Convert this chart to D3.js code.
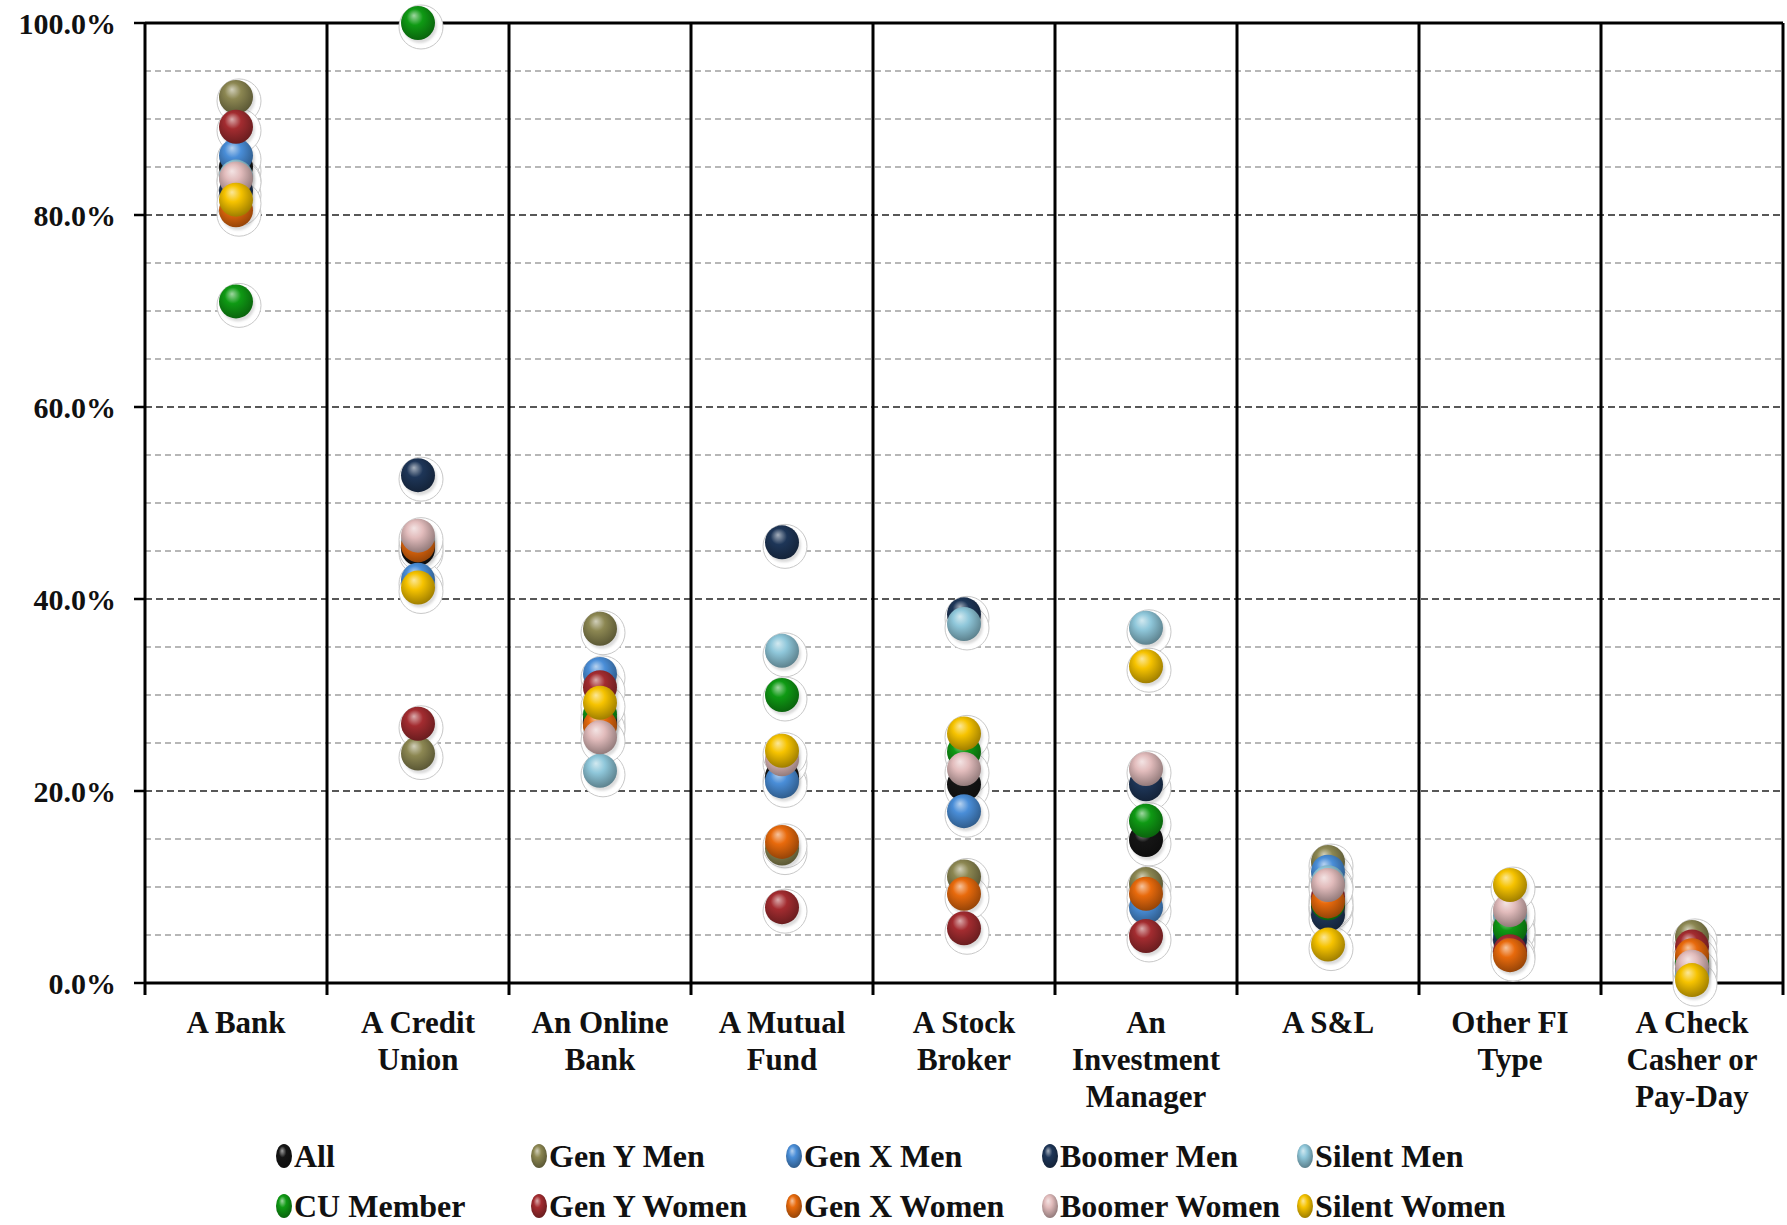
<!DOCTYPE html>
<html>
<head>
<meta charset="utf-8">
<script src="https://cdn.jsdelivr.net/npm/d3@7"></script>
<style>
  body { margin: 0; background: #fff; }
  text { font-family: "Liberation Serif", "Times New Roman", serif; font-weight: bold; fill: #111; }
</style>
</head>
<body>
<svg id="chart" width="1787" height="1225"></svg>
<script>
// categories (x axis), one line per array entry
const categories = [
  ['A Bank'], ['A Credit', 'Union'], ['An Online', 'Bank'], ['A Mutual', 'Fund'],
  ['A Stock', 'Broker'], ['An', 'Investment', 'Manager'], ['A S&L'],
  ['Other FI', 'Type'], ['A Check', 'Casher or', 'Pay-Day']
];
const seriesNames = ['All', 'Gen Y Men', 'Gen X Men', 'Boomer Men', 'Silent Men',
  'CU Member', 'Gen Y Women', 'Gen X Women', 'Boomer Women', 'Silent Women'];
const seriesColors = ['#151515', '#8c8752', '#4a8ed8', '#1e3658', '#8fc7da',
  '#0f9a14', '#a32c30', '#e86a0c', '#e2bcbc', '#f6c300'];

// values in percent, one array per series, in category order
const allVals         = [85.0, 45.2, 27.4, 21.5, 20.7, 14.9,  8.0,  5.5, 2.5];
const genYMenVals     = [92.3, 23.9, 36.9, 14.0, 11.1, 10.3, 12.6,  6.0, 4.8];
const genXMenVals     = [86.2, 42.0, 32.2, 21.0, 17.9,  7.9, 11.6,  5.0, 2.0];
const boomerMenVals   = [82.5, 52.9, 27.0, 45.9, 38.4, 20.7,  7.1,  4.5, 1.5];
const silentMenVals   = [84.0, 46.0, 22.1, 34.6, 37.4, 37.0, 10.5,  7.0, 1.0];
const cuMemberVals    = [71.0, 100.0, 28.0, 30.0, 24.1, 16.9, 8.3,  5.7, 2.2];
const genYWomenVals   = [89.2, 27.0, 30.8,  7.9,  5.7,  4.9,  9.0,  3.3, 3.8];
const genXWomenVals   = [80.5, 45.6, 26.8, 14.7,  9.3,  9.3,  8.5,  2.9, 2.9];
const boomerWomenVals = [83.8, 46.6, 25.6, 23.3, 22.3, 22.3, 10.2,  7.6, 1.7];
const silentWomenVals = [81.6, 41.2, 29.2, 24.2, 26.0, 33.0,  4.0, 10.2, 0.3];

const seriesValues = [allVals, genYMenVals, genXMenVals, boomerMenVals, silentMenVals,
  cuMemberVals, genYWomenVals, genXWomenVals, boomerWomenVals, silentWomenVals];

const yTicks = [0, 20, 40, 60, 80, 100];
const gridSteps = d3.range(5, 100, 5);

const svg = d3.select('#chart');
const plotLeft = 145, plotRight = 1783, plotTop = 23, plotBottom = 983;

let xScale = d3.scaleBand()
               .domain(d3.range(categories.length))
               .range([plotLeft, plotRight]);
let yScale = d3.scaleLinear()
               .domain([0, 100])
               .range([plotBottom, plotTop]);

// gradients for the shaded balls
const defs = svg.append('defs');
seriesColors.forEach(function(c, i){
  let g = defs.append('radialGradient')
              .attr('id', 'ball' + i)
              .attr('cx', '45%').attr('cy', '40%').attr('r', '60%')
              .attr('fx', '38%').attr('fy', '28%');
  g.append('stop').attr('offset', '0%').attr('stop-color', d3.interpolateRgb(c, '#fff')(0.6));
  g.append('stop').attr('offset', '40%').attr('stop-color', c);
  g.append('stop').attr('offset', '100%').attr('stop-color', d3.color(c).darker(1.2));
});
defs.append('filter').attr('id', 'soft')
    .append('feGaussianBlur').attr('stdDeviation', 1.2);

// gridlines
gridSteps.forEach(function(v){
  let major = v % 20 === 0;
  svg.append('line')
     .attr('x1', plotLeft).attr('x2', plotRight)
     .attr('y1', yScale(v)).attr('y2', yScale(v))
     .attr('stroke', major ? '#222' : '#a0a0a0')
     .attr('stroke-width', major ? 1.6 : 1.3)
     .attr('stroke-dasharray', major ? '7,4' : '6,4');
});
svg.append('line')
   .attr('x1', plotLeft).attr('x2', plotRight)
   .attr('y1', yScale(100)).attr('y2', yScale(100))
   .attr('stroke', '#000').attr('stroke-width', 3);

// category dividers, extending below the axis as ticks
for(let i = 0; i <= categories.length; i++){
  let x = i < categories.length ? xScale(i) : plotRight;
  svg.append('line')
     .attr('x1', x).attr('x2', x)
     .attr('y1', plotTop).attr('y2', plotBottom + 12)
     .attr('stroke', '#000').attr('stroke-width', 3);
}
svg.append('line')
   .attr('x1', plotLeft).attr('x2', plotRight)
   .attr('y1', plotBottom).attr('y2', plotBottom)
   .attr('stroke', '#000').attr('stroke-width', 3);

// y axis ticks and labels
yTicks.forEach(function(v){
  svg.append('line')
     .attr('x1', plotLeft - 11).attr('x2', plotLeft)
     .attr('y1', yScale(v)).attr('y2', yScale(v))
     .attr('stroke', '#000').attr('stroke-width', 2.5);
  svg.append('text')
     .attr('x', 116)
     .attr('y', yScale(v))
     .attr('dy', '0.35em')
     .attr('text-anchor', 'end')
     .attr('font-size', '30px')
     .text(v.toFixed(1) + '%');
});

// category labels
categories.forEach(function(lines, i){
  let t = svg.append('text')
             .attr('text-anchor', 'middle')
             .attr('font-size', '31px');
  lines.forEach(function(line, j){
    t.append('tspan')
     .attr('x', xScale(i) + xScale.bandwidth()/2)
     .attr('y', 1033 + j*37)
     .text(line);
  });
});

// halos first, then the balls
const pts = [];
seriesValues.forEach(function(vals, s){
  vals.forEach(function(v, i){ pts.push({s: s, i: i, v: v}); });
});
svg.append('g').selectAll('circle')
   .data(pts).enter().append('circle')
   .attr('cx', function(d){ return xScale(d.i) + xScale.bandwidth()/2 + 3; })
   .attr('cy', function(d){ return yScale(d.v) + 4; })
   .attr('r', 22)
   .attr('fill', '#fff')
   .attr('stroke', '#c8c8c8')
   .attr('stroke-width', 1);
svg.append('g').selectAll('circle')
   .data(pts).enter().append('circle')
   .attr('cx', function(d){ return xScale(d.i) + xScale.bandwidth()/2 + 2; })
   .attr('cy', function(d){ return yScale(d.v) + 3; })
   .attr('r', 17)
   .attr('fill', '#9a9a9a')
   .attr('opacity', 0.35)
   .attr('filter', 'url(#soft)');
svg.append('g').selectAll('circle')
   .data(pts).enter().append('circle')
   .attr('cx', function(d){ return xScale(d.i) + xScale.bandwidth()/2; })
   .attr('cy', function(d){ return yScale(d.v); })
   .attr('r', 17)
   .attr('fill', function(d){ return 'url(#ball' + d.s + ')'; });

// legend, 5 per row
const legendX = [284, 539, 794, 1050, 1305];
const legendY = [1156, 1206];
seriesNames.forEach(function(name, s){
  let x = legendX[s % 5], y = legendY[Math.floor(s / 5)];
  svg.append('ellipse')
     .attr('cx', x).attr('cy', y)
     .attr('rx', 8).attr('ry', 12)
     .attr('fill', 'url(#ball' + s + ')');
  svg.append('text')
     .attr('x', x + 10)
     .attr('y', y)
     .attr('dy', '0.35em')
     .attr('font-size', '32px')
     .text(name);
});
</script>
</body>
</html>
